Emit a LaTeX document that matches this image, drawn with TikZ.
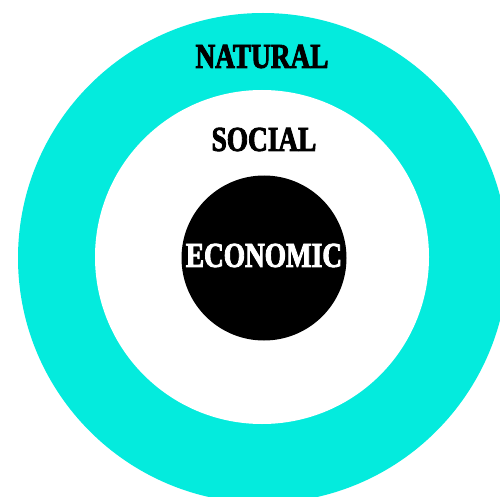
\documentclass[tikz,border=0pt]{standalone}
\usepackage{fontspec}
\newfontfamily\ringfont[FakeStretch=0.78,FakeBold=2.5]{Liberation Serif}
\definecolor{natural}{HTML}{04EBDD}
\begin{document}
\begin{tikzpicture}[x=1pt,y=-1pt,ring/.style={circle,inner sep=0pt},ringtext/.style={font=\ringfont\bfseries\fontsize{35}{40}\selectfont,inner sep=0pt}]
\useasboundingbox (0,0) rectangle (500,497);
\clip (0,0) rectangle (500,497);
\node[ring,fill=natural,minimum size=490pt] (natural) at (263,258) {};
\node[ring,fill=white,minimum size=334pt] (social) at (262,257) {};
\node[ring,fill=black,minimum size=165pt] (economic) at (264,258) {};
\node[ringtext] (naturaltext) at (262,56.5) {NATURAL};
\node[ringtext] (socialtext) at (264,139.5) {SOCIAL};
\node[ringtext,text=white] (economictext) at (264,255.5) {ECONOMIC};
\end{tikzpicture}
\end{document}
